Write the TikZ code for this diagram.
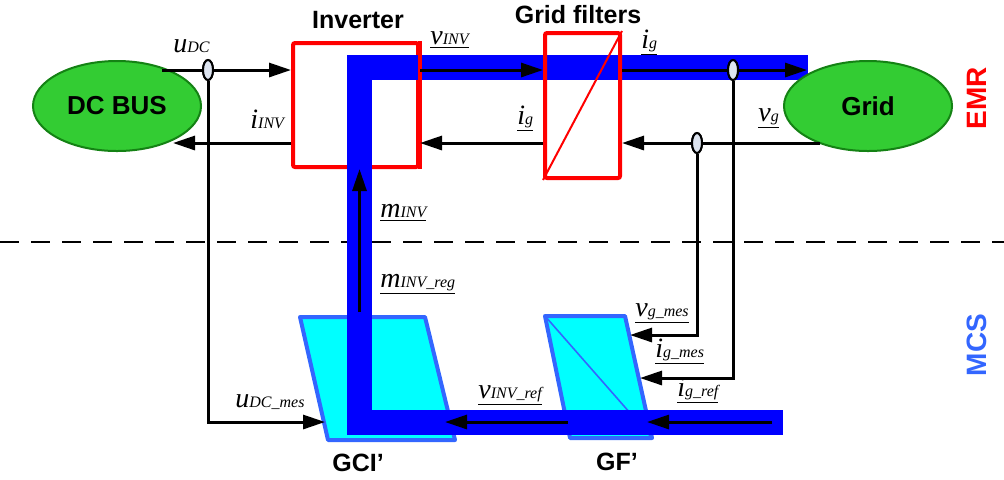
\documentclass[tikz,border=0pt]{standalone}
\usepackage{fontspec}
\setmainfont{Liberation Serif}
\setsansfont{Liberation Sans}
\usetikzlibrary{arrows.meta,shapes.geometric}
\definecolor{busgreen}{RGB}{51,204,51}
\definecolor{busedge}{RGB}{20,130,20}
\definecolor{mcsblue}{RGB}{51,102,255}
\definecolor{ctrlcyan}{RGB}{0,255,255}
\definecolor{sensorfill}{RGB}{221,228,240}
\newcommand{\vlab}[2]{{\fontsize{14}{14}\selectfont\itshape #1}{\fontsize{8}{8}\selectfont\itshape #2}}
\newcommand{\ulab}[2]{\underline{\vlab{#1}{#2}}}
\begin{document}
\begin{tikzpicture}[x=0.5pt,y=-0.5pt,
  src/.style={ellipse, draw=busedge, line width=1pt, fill=busgreen, minimum width=84pt, minimum height=45pt, inner sep=0pt, font=\sffamily\bfseries\fontsize{13}{15}\selectfont},
  rbox/.style={draw=red, line width=2pt, rounded corners=1pt, inner sep=0pt},
  redline/.style={draw=red, line width=2pt},
  title/.style={font=\sffamily\bfseries\fontsize{12.5}{14}\selectfont, inner sep=0pt},
  side/.style={font=\sffamily\bfseries\fontsize{14}{16}\selectfont, rotate=90, inner sep=0pt},
  pbox/.style={fill=ctrlcyan, draw=mcsblue, line width=2pt, line join=round},
  band/.style={draw=blue, line width=12.5pt},
  wire/.style={line width=1.5pt},
  arr/.style={line width=1.5pt, -{Triangle[length=11pt,width=7pt]}},
  sensor/.style={ellipse, draw=black, line width=1pt, fill=sensorfill, minimum width=5pt, minimum height=10pt, inner sep=0pt},
  lab/.style={anchor=base west, inner sep=0pt}
]
\useasboundingbox (0,0) rectangle (1004,479);

% separation line
\draw[line width=1.25pt, dash pattern=on 9.5pt off 6pt] (0,242) -- (1004,242);

% reference rows
\coordinate (yt) at (0,70);
\coordinate (yb) at (0,143);
\coordinate (ybot) at (0,422);

% control blocks (MCS)
\draw[pbox] (300,317) -- (425,317) -- (455,440) -- (328,440) -- cycle;
\draw[pbox] (545,316) -- (625,316) -- (652,438) -- (570,438) -- cycle;
\draw[mcsblue, line width=0.8pt] (545,316) -- (652,438);
\node[title] (tgci) at (358,463) {GCI’};
\node[title] (tgf) at (617,462) {GF’};

% inverter box
\node[rbox, minimum width=62.5pt, minimum height=62pt] (inv) at (355.5,105) {};
\node[title] (tinv) at (358,20) {Inverter};

% blue power path
\draw[band] (808,67.5) -- (359.5,67.5) -- (359.5,422) -- (783,422);

% redraw inverter right edge on top
\draw[redline] (inv.north east) -- (inv.south east);

% grid filter box
\node[rbox, minimum width=37.5pt, minimum height=72.5pt] (gf) at (582.5,105.5) {};
\draw[red, line width=1pt] (gf.south west) -- (gf.north east);
\node[title] (tgf2) at (578,15) {Grid filters};

% sources
\node[src] (dcbus) at (117,106) {DC BUS};
\node[src] (grid) at (868,106) {Grid};

% side labels
\node[side, text=red] (emr) at (977,98) {EMR};
\node[side, text=mcsblue] (mcs) at (977,345) {MCS};

% connector end points
\coordinate (dcout) at (162,70);
\coordinate (dcin) at (173,143);
\coordinate (gridin) at (807,70);
\coordinate (gridout) at (820,143);
\coordinate (gcil) at (325,422);
\coordinate (gcir) at (445,422);
\coordinate (gfl) at (568,422);
\coordinate (gfr) at (647,422);
\coordinate (igref) at (772,422);
\coordinate (igm) at (640,378);
\coordinate (vgm) at (630,335);
\coordinate (mreg) at (359.5,312);

% sensors (placed first so lines can reference them)
\node[sensor] (s1) at (208,70) {};
\node[sensor] (s2) at (733,70) {};
\node[sensor] (s3) at (697,143) {};

% EMR connectors
\draw[arr] (dcout) -- (inv.west |- yt);
\draw[arr] (inv.west |- yb) -- (dcin);
\draw[arr] (inv.east |- yt) -- (gf.west |- yt);
\draw[arr] (gf.west |- yb) -- (inv.east |- yb);
\draw[arr] (gf.east |- yt) -- (gridin);
\draw[arr] (gridout) -- (gf.east |- yb);

% measurement connectors
\draw[arr] (s1.south) -- (s1.south |- ybot) -- (gcil);
\draw[arr] (s2.south) -- (s2.south |- igm) -- (igm);
\draw[arr] (s3.south) -- (s3.south |- vgm) -- (vgm);

% control connectors
\draw[arr] (mreg) -- (mreg |- inv.south);
\draw[arr] (gfl) -- (gcir);
\draw[arr] (igref) -- (gfr);

% sensors on top
\node[sensor] at (s1) {};
\node[sensor] at (s2) {};
\node[sensor] at (s3) {};

% labels
\node[lab] (luDC) at (173,52) {\vlab{u}{DC}};
\node[lab] (liINV) at (250,128) {\vlab{i}{INV}};
\node[lab] (lvINV) at (430,44) {\ulab{v}{INV}};
\node[lab] (lig1) at (517,124) {\ulab{i}{g}};
\node[lab] (lig2) at (641,48) {\ulab{i}{g}};
\node[lab] (lvg) at (758,121) {\ulab{v}{g}};
\node[lab] (lmINV) at (380,217) {\ulab{m}{INV}};
\node[lab] (lmreg) at (380,287) {\ulab{m}{INV\_reg}};
\node[lab] (luDCm) at (235,407) {\vlab{u}{DC\_mes}};
\node[lab] (lvINVr) at (478,398) {\ulab{v}{INV\_ref}};
\node[lab] (lvgm) at (635,316) {\ulab{v}{g\_mes}};
\node[lab] (ligm) at (655,357) {\ulab{i}{g\_mes}};
\node[lab] (ligr) at (677,396) {\ulab{i}{g\_ref}};
\end{tikzpicture}
\end{document}
